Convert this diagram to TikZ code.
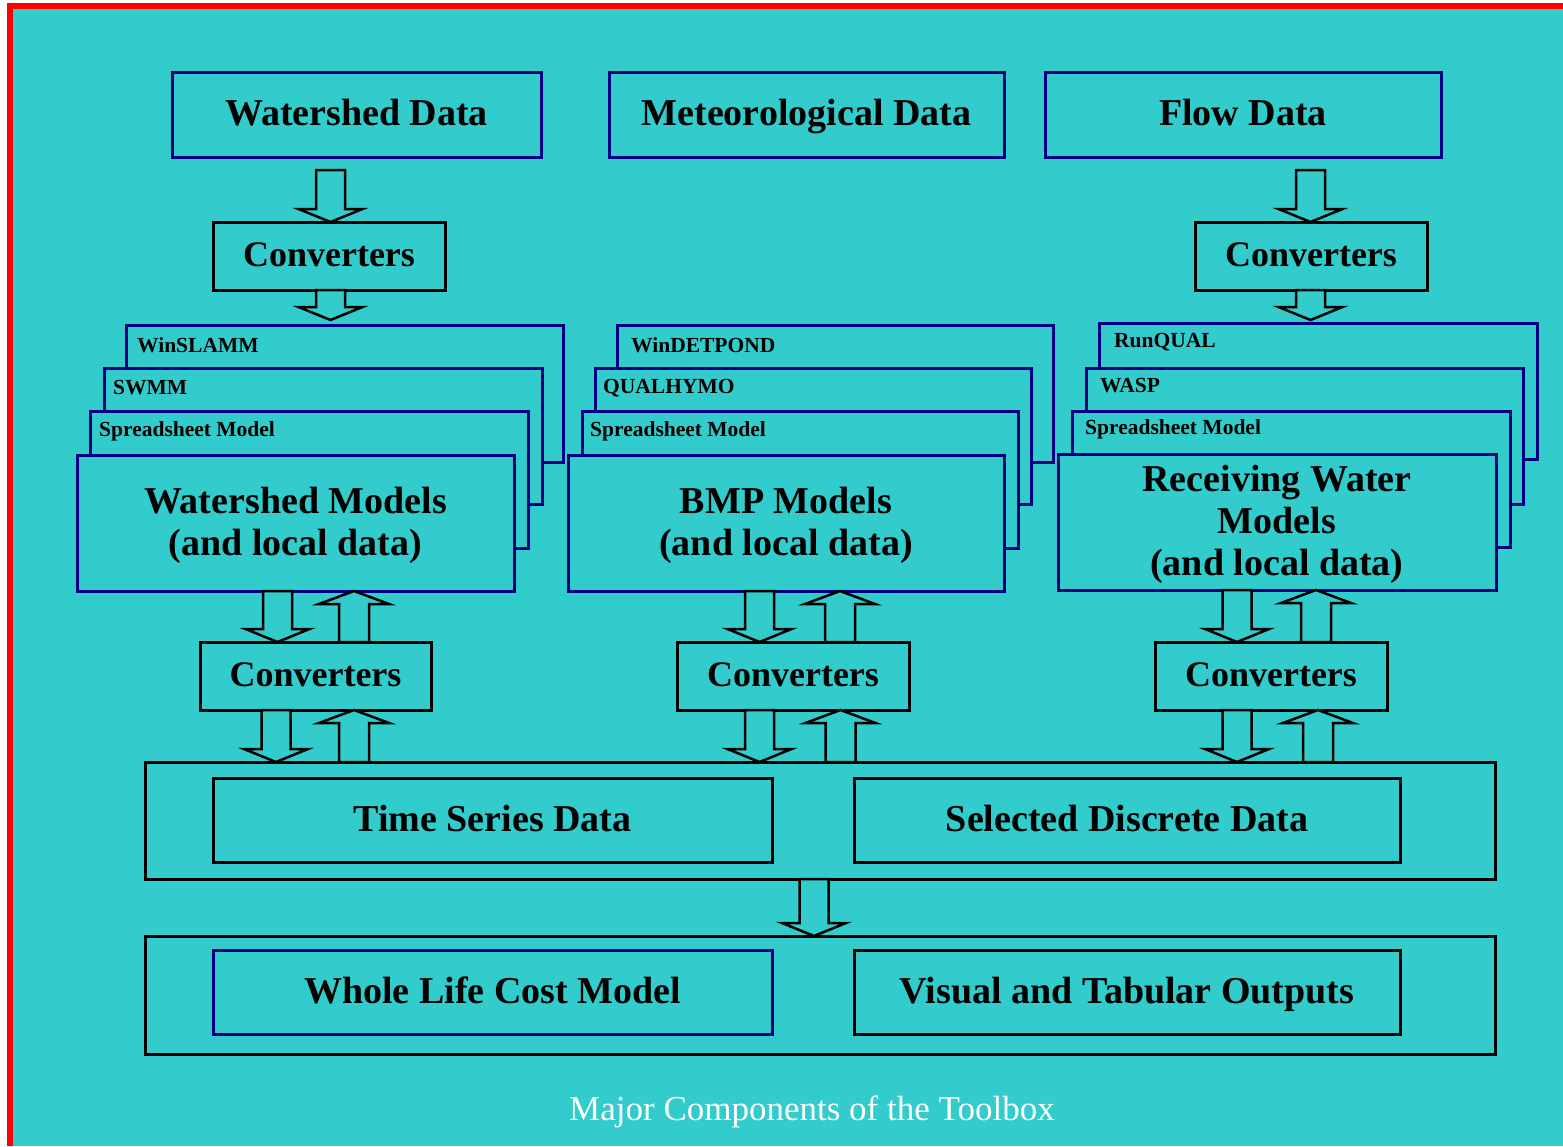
\documentclass[tikz,border=0pt]{standalone}
\usepackage[T1]{fontenc}
\usepackage{fontspec}
\usetikzlibrary{calc}
\newfontfamily\capfont{Liberation Serif}
% bold Palatino-style face for the box texts, with a serif fallback
\IfFileExists{pplb8t.tfm}{%
  \newcommand\palb{\fontencoding{T1}\fontfamily{ppl}\fontseries{b}\selectfont}%
  \def\bigsize{35}\def\smallsize{20}}{%
  \newfontfamily\palbfam{Liberation Serif}%
  \newcommand\palb{\palbfam\bfseries}%
  \def\bigsize{38}\def\smallsize{21.5}}
\definecolor{bgcyan}{HTML}{33CCCC}
\definecolor{navy}{HTML}{000080}
% keep a fixed line pitch even with tall line struts
\AtBeginDocument{\lineskiplimit=-100pt\relax}

% line strut, so every text line sits on the same baseline grid
\newcommand\lstrut{\rule[-0.25em]{0pt}{1.09em}}

% box given by its corners (x1,y1) -- (x2,y2), in pixel units
\newcommand\boxat[7]{%
  \node[#6, minimum width={#4-#2}, minimum height={#5-#3}] (#1) at ({(#2+#4)/2},{(#3+#5)/2}) {#7};}
% hollow block arrow pointing down: from anchor #1 to anchor #2, centred at x=#3,
% gap #4 after the start and gap #5 before the end
\newcommand\arrdown[5]{%
  \draw[blockarr] let \p1=(#1), \p2=(#2) in
    ({#3pt-14.5pt},{\y1-#4pt}) -- ({#3pt+14.5pt},{\y1-#4pt}) -- ({#3pt+14.5pt},{\y2+13pt+#5pt})
    -- ({#3pt+32pt},{\y2+13pt+#5pt}) -- ({#3pt},{\y2+#5pt}) -- ({#3pt-32pt},{\y2+13pt+#5pt})
    -- ({#3pt-14.5pt},{\y2+13pt+#5pt}) -- cycle;}
% hollow block arrow pointing up: from anchor #1 to anchor #2, centred at x=#3
\newcommand\arrup[3]{%
  \draw[blockarr] let \p1=(#1), \p2=(#2) in
    ({#3pt-15pt},\y1) -- ({#3pt+15pt},\y1) -- ({#3pt+15pt},{\y2-13pt})
    -- ({#3pt+35pt},{\y2-13pt}) -- ({#3pt},\y2) -- ({#3pt-35pt},{\y2-13pt})
    -- ({#3pt-15pt},{\y2-13pt}) -- cycle;}

\tikzset{
  navybox/.style={draw=navy, line width=3pt, fill=bgcyan, inner sep=0pt, outer sep=0pt,
    font=\palb\fontsize{\bigsize}{42}\selectfont, align=center},
  blackbox/.style={navybox, draw=black},
  convbox/.style={blackbox, font=\palb\fontsize{36}{42}\selectfont},
  layerbox/.style={navybox},
  layerlabel/.style={anchor=west, inner sep=0pt, font=\palb\fontsize{\smallsize}{24}\selectfont},
  blockarr/.style={draw=black, line width=2.5pt, fill=bgcyan, line join=miter},
  caption/.style={text=white, anchor=base, font=\capfont\fontsize{35}{40}\selectfont}
}

\begin{document}
\begin{tikzpicture}[x=1pt, y=-1pt]
\useasboundingbox (0,0) rectangle (1563,1146);
\fill[white] (0,0) rectangle (1563,1146);
\fill[red] (7,3) rectangle (1563,1146);
\fill[bgcyan] (13,9) rectangle (1563,1146);

% data sources
\boxat{wsdata}{172}{72}{541}{157}{navybox}{\lstrut Watershed Data}
\boxat{metdata}{609}{72}{1004}{157}{navybox}{\lstrut Meteorological Data}
\boxat{flowdata}{1045}{72}{1441}{157}{navybox}{\lstrut Flow Data}

% input converters
\boxat{convA}{213}{222}{445}{290}{convbox}{\lstrut Converters}
\boxat{convB}{1195}{222}{1427}{290}{convbox}{\lstrut Converters}

% watershed model stack
\boxat{winslamm}{126}{325}{563}{462}{layerbox}{}
\node[layerlabel] (winslammL) at (137,345) {WinSLAMM};
\boxat{swmm}{104}{368}{542}{504}{layerbox}{}
\node[layerlabel] (swmmL) at (113,388) {SWMM};
\boxat{sprA}{90}{411}{528}{548}{layerbox}{}
\node[layerlabel] (sprAL) at (99,431) {Spreadsheet Model};
\boxat{wsmod}{77}{455}{514}{591}{navybox}{\lstrut Watershed Models\\\lstrut (and local data)}

% BMP model stack
\boxat{windet}{617}{325}{1053}{462}{layerbox}{}
\node[layerlabel] (windetL) at (631,345) {WinDETPOND};
\boxat{qualhymo}{595}{368}{1031}{504}{layerbox}{}
\node[layerlabel] (qualhymoL) at (603,388) {QUALHYMO};
\boxat{sprB}{582}{411}{1018}{548}{layerbox}{}
\node[layerlabel] (sprBL) at (590,431) {Spreadsheet Model};
\boxat{bmpmod}{568}{455}{1004}{591}{navybox}{\lstrut BMP Models\\\lstrut (and local data)}

% receiving water model stack
\boxat{runqual}{1099}{323}{1537}{459}{layerbox}{}
\node[layerlabel] (runqualL) at (1114,342) {RunQUAL};
\boxat{wasp}{1086}{368}{1523}{504}{layerbox}{}
\node[layerlabel] (waspL) at (1100,386) {WASP};
\boxat{sprC}{1072}{411}{1510}{547}{layerbox}{}
\node[layerlabel] (sprCL) at (1085,429) {Spreadsheet Model};
\boxat{rwmod}{1058}{454}{1496}{590}{navybox}{\lstrut Receiving Water\\\lstrut Models\\\lstrut (and local data)}

% model converters
\boxat{convL}{200}{642}{431}{710}{convbox}{\lstrut Converters}
\boxat{convM}{677}{642}{909}{710}{convbox}{\lstrut Converters}
\boxat{convR}{1155}{642}{1387}{710}{convbox}{\lstrut Converters}

% shared data store
\boxat{store}{145}{762}{1495}{879}{blackbox}{}
\boxat{tsdata}{213}{778}{772}{862}{blackbox}{\lstrut Time Series Data}
\boxat{discdata}{854}{778}{1400}{862}{blackbox}{\lstrut Selected Discrete Data}

% outputs
\boxat{outputs}{145}{936}{1495}{1054}{blackbox}{}
\boxat{wlcost}{213}{950}{772}{1034}{navybox}{\lstrut Whole Life Cost Model}
\boxat{visual}{854}{950}{1400}{1034}{blackbox}{\lstrut Visual and Tabular Outputs}

% flows
\arrdown{wsdata.south}{convA.north}{330.5}{13}{0}
\arrdown{flowdata.south}{convB.north}{1310.5}{13}{0}
\arrdown{convA.south}{winslamm.north}{330.5}{0}{5}
\arrdown{convB.south}{runqual.north}{1310.5}{0}{3}

\arrdown{wsmod.south}{convL.north}{277.5}{0}{0}
\arrup{convL.north}{wsmod.south}{354}
\arrdown{convL.south}{store.north}{276}{0}{0}
\arrup{store.north}{convL.south}{354}

\arrdown{bmpmod.south}{convM.north}{759.5}{0}{0}
\arrup{convM.north}{bmpmod.south}{840}
\arrdown{convM.south}{store.north}{759.5}{0}{0}
\arrup{store.north}{convM.south}{840.5}

\arrdown{rwmod.south}{convR.north}{1237}{0}{0}
\arrup{convR.north}{rwmod.south}{1316}
\arrdown{convR.south}{store.north}{1237}{0}{0}
\arrup{store.north}{convR.south}{1318}

\arrdown{store.south}{outputs.north}{814}{0}{0}

\node[caption] (cap) at (812,1120) {Major Components of the Toolbox};
\end{tikzpicture}
\end{document}
